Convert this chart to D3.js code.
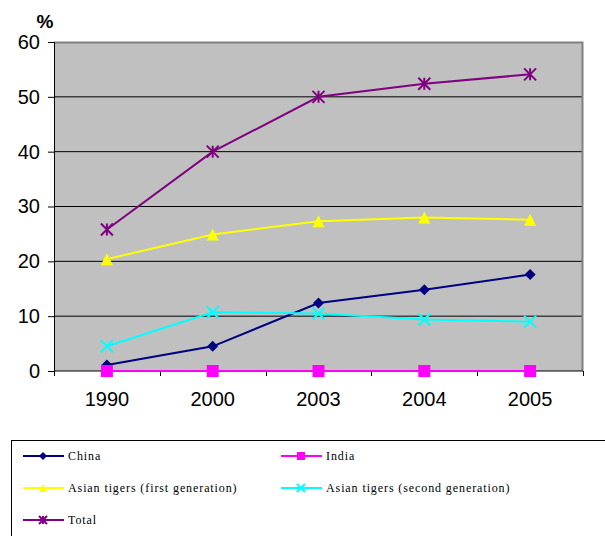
<!DOCTYPE html>
<html>
<head>
<meta charset="utf-8">
<script src="https://cdn.jsdelivr.net/npm/d3@7"></script>
<style>
  body { margin: 0; background: #fff; }
  svg { display: block; font-family: "Liberation Sans", Arial, sans-serif; }
</style>
</head>
<body>
<svg id="chart" width="605" height="536"></svg>
<script>
const years = ["1990", "2000", "2003", "2004", "2005"]
const yTicks = [0, 10, 20, 30, 40, 50, 60]

const china = [1.1, 4.5, 12.4, 14.8, 17.6]
const india = [0, 0, 0, 0, 0]
const tigersFirst = [20.4, 24.9, 27.3, 28.0, 27.6]
const tigersSecond = [4.5, 10.7, 10.5, 9.4, 9.0]
const total = [25.8, 40.0, 50.0, 52.4, 54.1]

const seriesList = [
  {name: "China", values: china, color: "#000080", marker: "diamond"},
  {name: "India", values: india, color: "#ff00ff", marker: "square"},
  {name: "Asian tigers (first generation)", values: tigersFirst, color: "#ffff00", marker: "triangle"},
  {name: "Asian tigers (second generation)", values: tigersSecond, color: "#00ffff", marker: "cross"},
  {name: "Total", values: total, color: "#800080", marker: "star"}
]

const margin = {top: 42, right: 22, bottom: 165, left: 54}
const width = 605 - margin.left - margin.right
const height = 536 - margin.top - margin.bottom

const svg = d3.select('#chart')
const chart = svg.append('g')
  .attr('transform', `translate(${margin.left}, ${margin.top})`)

const xScale = d3.scaleBand()
  .domain(years)
  .range([0, width])

const yScale = d3.scaleLinear()
  .domain([0, 60])
  .range([height, 0])

// plot background
chart.append('rect')
  .attr('width', width)
  .attr('height', height)
  .attr('fill', '#c0c0c0')

// gridlines
chart.append('g')
  .selectAll('line')
  .data(yTicks.filter(d => d > 0 && d < 60))
  .join('line')
    .attr('x1', 0)
    .attr('x2', width)
    .attr('y1', d => yScale(d))
    .attr('y2', d => yScale(d))
    .attr('stroke', '#000')
    .attr('stroke-width', 1)

// top and right frame
chart.append('path')
  .attr('d', `M0,0.5H${width - 0.5}V${height}`)
  .attr('fill', 'none')
  .attr('stroke', '#808080')
  .attr('stroke-width', 2)

// y axis
const yAxis = chart.append('g')
  .call(d3.axisLeft(yScale).tickValues(yTicks).tickSize(6).tickPadding(8))
yAxis.select('.domain').attr('stroke', '#000')
yAxis.selectAll('text')
  .attr('font-size', 20)
  .attr('fill', '#000')
  .style('font-family', '"Liberation Sans", Arial, sans-serif')

// x axis, ticks on the band edges
const xAxis = chart.append('g')
  .attr('transform', `translate(0, ${height})`)
  .call(d3.axisBottom(xScale).tickSize(0).tickPadding(21))
xAxis.select('.domain').remove()
xAxis.selectAll('text')
  .attr('font-size', 20)
  .attr('fill', '#000')
  .style('font-family', '"Liberation Sans", Arial, sans-serif')

chart.append('line')
  .attr('x1', 0).attr('x2', width)
  .attr('y1', height).attr('y2', height)
  .attr('stroke', '#000')

chart.append('g')
  .selectAll('line')
  .data(years.map(d => xScale(d)).concat([width]))
  .join('line')
    .attr('x1', d => Math.round(d) + 0.5)
    .attr('x2', d => Math.round(d) + 0.5)
    .attr('y1', height)
    .attr('y2', height + 5)
    .attr('stroke', '#000')

svg.append('text')
  .attr('x', 45)
  .attr('y', 28)
  .attr('text-anchor', 'middle')
  .attr('font-size', 19)
  .attr('font-weight', 'bold')
  .text('%')

function drawMarker(g, type, color, size) {
  const s = size
  if (type === 'diamond') {
    g.append('path').attr('d', `M0,${-s/2}L${s/2},0L0,${s/2}L${-s/2},0Z`).attr('fill', color)
  } else if (type === 'square') {
    g.append('rect').attr('x', -s/2).attr('y', -s/2).attr('width', s).attr('height', s).attr('fill', color)
  } else if (type === 'triangle') {
    g.append('path').attr('d', `M0,${-s/2}L${s/2},${s/2}L${-s/2},${s/2}Z`).attr('fill', color)
  } else if (type === 'cross') {
    g.append('path').attr('d', `M${-s/2},${-s/2}L${s/2},${s/2}M${s/2},${-s/2}L${-s/2},${s/2}`)
      .attr('stroke', color).attr('stroke-width', 2)
  } else if (type === 'star') {
    g.append('path').attr('d', `M${-s/2},${-s/2}L${s/2},${s/2}M${s/2},${-s/2}L${-s/2},${s/2}M0,${-s/2}V${s/2}`)
      .attr('stroke', color).attr('stroke-width', 2)
  }
}

const line = d3.line()
  .x((d, i) => xScale(years[i]) + xScale.bandwidth() / 2)
  .y(d => yScale(d))

const sizes = {diamond: 11, square: 12, triangle: 12, cross: 12, star: 12}

seriesList.forEach(s => {
  chart.append('path')
    .datum(s.values)
    .attr('d', line)
    .attr('fill', 'none')
    .attr('stroke', s.color)
    .attr('stroke-width', 2)
  s.values.forEach((v, i) => {
    const g = chart.append('g')
      .attr('transform', `translate(${xScale(years[i]) + xScale.bandwidth() / 2}, ${yScale(v)})`)
    drawMarker(g, s.marker, s.color, sizes[s.marker])
  })
})

// legend
const legend = svg.append('g')
legend.append('rect')
  .attr('x', 11.5)
  .attr('y', 440.5)
  .attr('width', 620)
  .attr('height', 120)
  .attr('fill', '#fff')
  .attr('stroke', '#000')

const legendPos = [
  {x: 23, y: 456}, {x: 281, y: 456},
  {x: 23, y: 488}, {x: 281, y: 488},
  {x: 23, y: 520}
]

seriesList.forEach((s, i) => {
  const p = legendPos[i]
  const g = legend.append('g').attr('transform', `translate(${p.x}, ${p.y})`)
  g.append('line')
    .attr('x1', 0).attr('x2', 41)
    .attr('stroke', s.color)
    .attr('stroke-width', 2)
  const m = g.append('g').attr('transform', 'translate(20, 0)')
  drawMarker(m, s.marker, s.color, 8)
  g.append('text')
    .attr('x', 45)
    .attr('y', 4)
    .attr('font-size', 12)
    .attr('letter-spacing', '0.9px')
    .style('font-family', '"Liberation Serif", "Times New Roman", serif')
    .attr('fill', '#000')
    .text(s.name)
})
</script>
</body>
</html>
